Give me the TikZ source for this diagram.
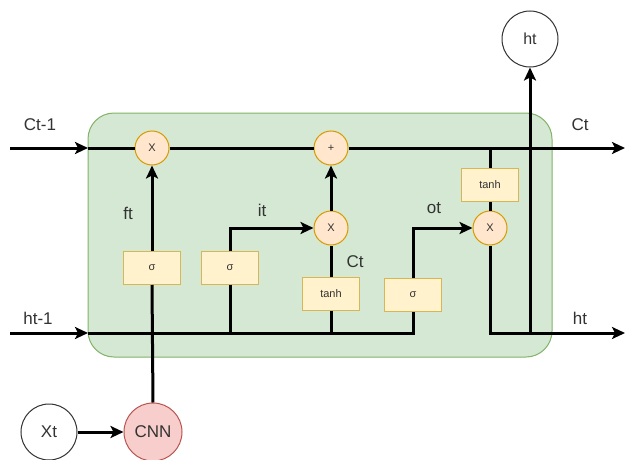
\documentclass[tikz,border=0pt]{standalone}
\usepackage{fontspec}
\setmainfont{Liberation Sans}
\usetikzlibrary{arrows.meta}
\definecolor{cellfill}{HTML}{D5E8D4}
\definecolor{celldraw}{HTML}{82B366}
\definecolor{opfill}{HTML}{FFE6CC}
\definecolor{opdraw}{HTML}{D79B00}
\definecolor{actfill}{HTML}{FFF2CC}
\definecolor{actdraw}{HTML}{D6B656}
\definecolor{cnnfill}{HTML}{F8CECC}
\definecolor{cnndraw}{HTML}{B85450}
\definecolor{txt}{HTML}{333333}
\begin{document}
\begin{tikzpicture}[x=1pt,y=-1pt,
  wire/.style={line width=3pt,black},
  arr/.style={wire,-{Stealth[length=13pt,width=12pt,inset=3pt]}},
  opnode/.style={circle,draw=opdraw,fill=opfill,line width=1pt,minimum size=34pt,inner sep=0pt,font=\fontsize{11}{12}\selectfont,text=txt},
  actnode/.style={rectangle,draw=actdraw,fill=actfill,line width=1pt,minimum width=57pt,minimum height=33pt,inner sep=0pt,font=\fontsize{11}{12}\selectfont,text=txt},
  io/.style={circle,draw=black!80,fill=white,line width=1pt,minimum size=56pt,inner sep=0pt,font=\fontsize{17}{19}\selectfont,text=txt},
  lbl/.style={font=\fontsize{17}{19}\selectfont,text=txt,inner sep=0pt}
]
\useasboundingbox (0,0) rectangle (629,460);
\fill[white] (0,0) rectangle (629,460);
\draw[draw=celldraw,fill=cellfill,line width=1pt,rounded corners=26pt] (88,113) rectangle (552,357);

% coordinates
\coordinate (cin) at (10,148);
\coordinate (cbox) at (88,148);
\coordinate (cout) at (625,148);
\coordinate (tj) at (490,148);
\coordinate (hin) at (10,333);
\coordinate (hbox) at (88,333);
\coordinate (hout) at (625,333);
\coordinate (hj) at (530,333);

% nodes
\node[opnode] (x1) at (152,148) {X};
\node[opnode] (plus) at (331,148) {+};
\node[opnode] (x2) at (331,228) {X};
\node[opnode] (x3) at (490,228) {X};
\node[actnode] (s1) at (152,268) {σ};
\node[actnode] (s2) at (230,268) {σ};
\node[actnode] (t1) at (331,294) {tanh};
\node[actnode] (s3) at (413,295) {σ};
\node[actnode] (t2) at (490,185) {tanh};
\node[io,font=\fontsize{16}{18}\selectfont] (htop) at (530,39) {ht};
\node[io] (xt) at (49,432) {Xt};
\node[io,draw=cnndraw,fill=cnnfill,minimum size=58pt] (cnn) at (153,432) {CNN};

% cell state line
\draw[arr] (cin) -- (cbox);
\draw[wire] (cbox) -- (x1.west);
\draw[wire] (x1.east) -- (plus.west);
\draw[arr] (plus.east) -- (cout);
\draw[wire] (tj) -- (t2.north);
\draw[wire] (t2.south) -- (x3.north);

% hidden line
\draw[arr] (hin) -- (hbox);
\draw[wire] (hbox) -| (s3.south);
\draw[wire] (s2.south) -- (s2.south |- hbox);
\draw[wire] (t1.south) -- (t1.south |- hbox);

% gates
\draw[wire] (cnn.north) -- (s1.south);
\draw[arr] (s1.north) -- (x1.south);
\draw[arr] (s2.north) |- (x2.west);
\draw[wire] (t1.north) -- (x2.south);
\draw[arr] (x2.north) -- (plus.south);
\draw[arr] (s3.north) |- (x3.west);
\draw[arr] (x3.south) |- (hout);
\draw[arr] (hj) -- (htop.south);
\draw[arr] (xt.east) -- (cnn.west);

% labels
\node[lbl] (lc1) at (40,125) {Ct-1};
\node[lbl] (lc2) at (580,125) {Ct};
\node[lbl] (lh1) at (38,318) {ht-1};
\node[lbl] (lh2) at (580,318) {ht};
\node[lbl] (lft) at (128,213) {ft};
\node[lbl] (lit) at (262,210) {it};
\node[lbl] (lct) at (355,262) {Ct};
\node[lbl] (lot) at (434,208) {ot};
\end{tikzpicture}
\end{document}
